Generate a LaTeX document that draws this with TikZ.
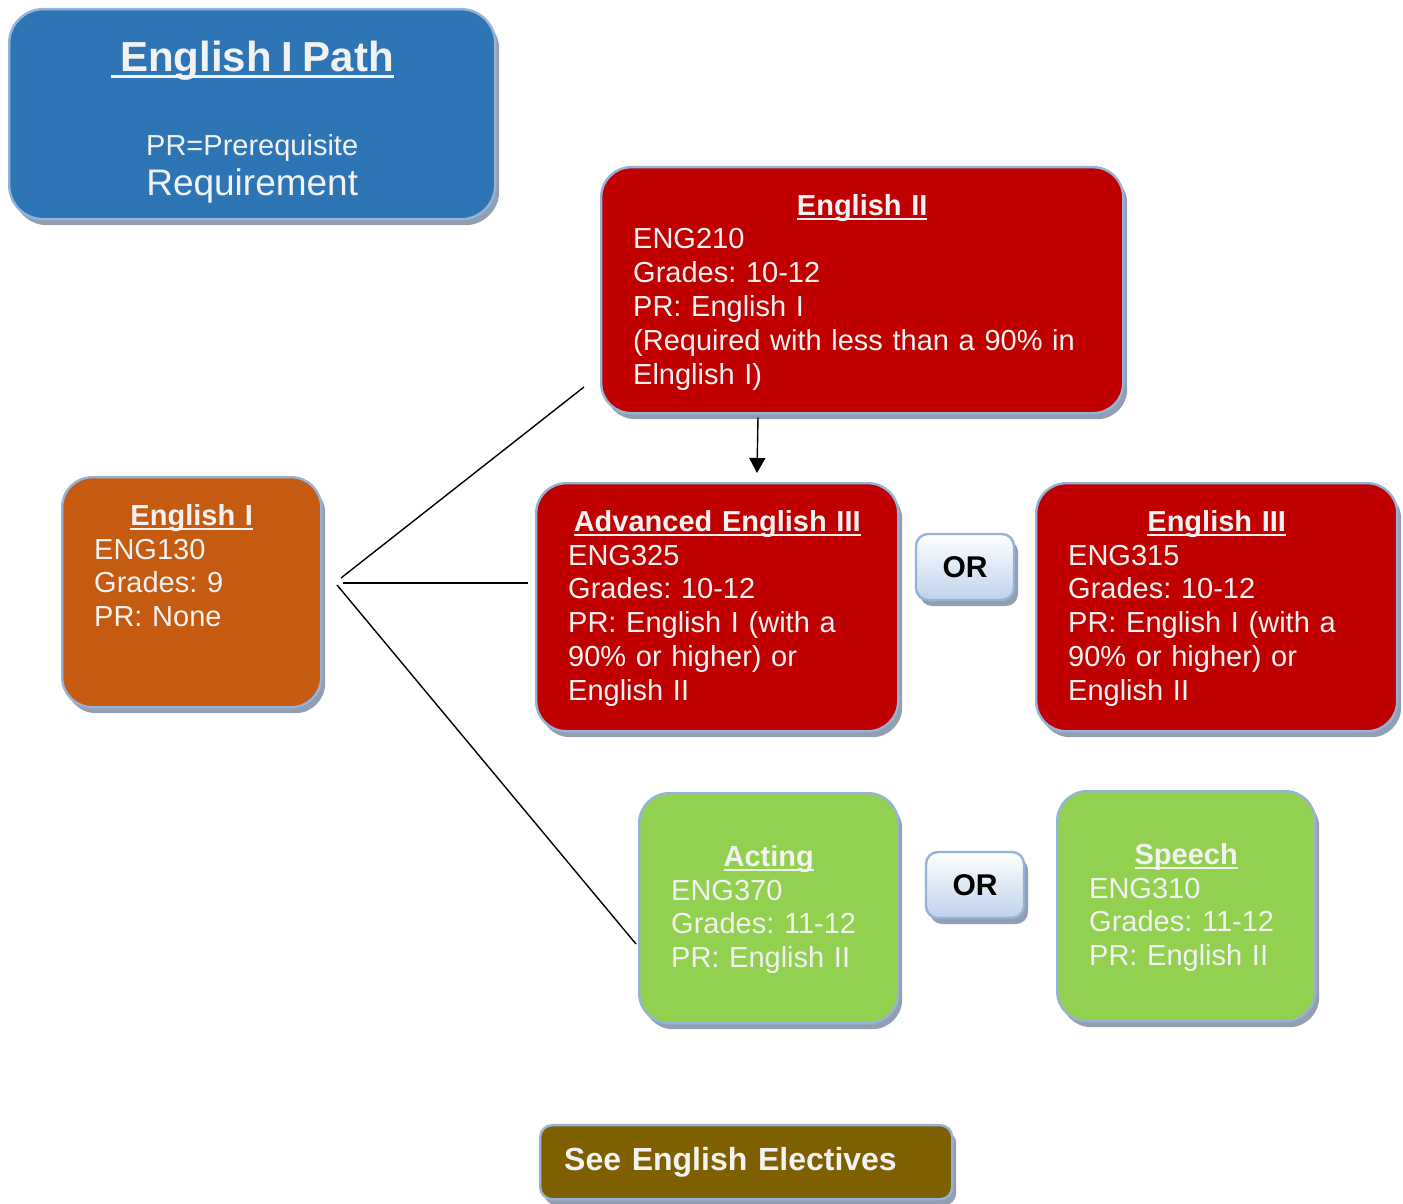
\documentclass[tikz,border=0pt]{standalone}
\usepackage{fontspec}
\setmainfont{Liberation Sans}
\frenchspacing
\usetikzlibrary{arrows.meta,shadows,positioning}
\definecolor{pathblue}{RGB}{46,117,182}
\definecolor{coursered}{RGB}{192,0,0}
\definecolor{courseorange}{RGB}{197,90,17}
\definecolor{coursegreen}{RGB}{146,208,80}
\definecolor{electbrown}{RGB}{127,96,0}
\definecolor{boxline}{RGB}{149,179,215}
\definecolor{boxshadow}{RGB}{146,158,178}
\definecolor{boxtext}{RGB}{242,242,242}
\definecolor{orbottom}{RGB}{190,210,236}
\newcommand\uln[1]{\leavevmode\setbox0\hbox{#1}\rlap{\rule[-0.16em]{\wd0}{0.07em}}\box0}
\tikzset{
  boxbase/.style={draw=boxline,line width=1.2pt,text=boxtext,
    drop shadow={shadow xshift=2pt,shadow yshift=-3pt,fill=boxshadow,opacity=1}},
  course/.style={boxbase,fill=#1,rounded corners=15pt,anchor=north west,align=left,
    inner xsep=16pt,inner ysep=12pt,text height=12pt,font=\fontsize{14.5}{16.9}\selectfont},
  orbox/.style={boxbase,rounded corners=6pt,top color=white,bottom color=orbottom,
    text=black,minimum width=49pt,minimum height=33pt,inner sep=0pt,
    font=\fontsize{15}{18}\selectfont\bfseries},
  electbox/.style={boxbase,fill=electbrown,rounded corners=6pt,anchor=north west,
    align=left,text width=182pt,inner xsep=12pt,inner ysep=0pt,minimum height=37pt,
    font=\fontsize{16}{19}\selectfont\bfseries},
  link/.style={line width=0.7pt,black},
}
\begin{document}
\begin{tikzpicture}[x=0.5pt,y=-0.5pt]
  \useasboundingbox (0,0) rectangle (1403,1204);
  \node[boxbase,fill=pathblue,rounded corners=17pt,anchor=north west,align=center,
    text width=211pt,inner xsep=16pt,inner ysep=12pt,text height=19pt,text depth=62pt,
    font=\fontsize{14.5}{20}\selectfont] (key) at (8,8)
    {{\fontsize{21}{25}\selectfont\bfseries\uln{\ English I Path}}\\[22pt]
     PR=Prerequisite\\ {\fontsize{18.5}{20}\selectfont Requirement}};
  \node[course=coursered,text width=229pt,text depth=87pt] (engtwo) at (600,166)
    {\makebox[\linewidth]{\uln{\bfseries English II}}\\ ENG210\\ Grades: 10-12\\
     PR: English I\\ (Required with less than a 90\% in\\ Elnglish I)};
  \node[course=courseorange,text width=97.5pt,text depth=79pt] (engone) at (61,476)
    {\makebox[\linewidth]{\uln{\bfseries English I}}\\ ENG130\\ Grades: 9\\ PR: None};
  \node[course=coursered,text width=149pt,text depth=88pt] (adveng) at (535,482)
    {\makebox[\linewidth]{\uln{\bfseries Advanced English III}}\\ ENG325\\ Grades: 10-12\\
     PR: English I (with a\\ 90\% or higher) or\\ English II};
  \node[course=coursered,text width=148.5pt,text depth=88pt] (engthree) at (1035,482)
    {\makebox[\linewidth]{\uln{\bfseries English III}}\\ ENG315\\ Grades: 10-12\\
     PR: English I (with a\\ 90\% or higher) or\\ English II};
  \node[course=coursegreen,text width=97.5pt,text height=24.5pt,text depth=66.5pt] (acting) at (638,792)
    {\makebox[\linewidth]{\uln{\bfseries Acting}}\\ ENG370\\ Grades: 11-12\\ PR: English II};
  \node[course=coursegreen,text width=97pt,text height=24.5pt,text depth=66.5pt] (speech) at (1056,790)
    {\makebox[\linewidth]{\uln{\bfseries Speech}}\\ ENG310\\ Grades: 11-12\\ PR: English II};
  \node[orbox] (orA) at (965,567) {OR};
  \node[orbox] (orB) at (975,885) {OR};
  \node[electbox] (electives) at (539,1124) {See English Electives};
  \coordinate (forkA) at (341,578);
  \coordinate (forkB) at (343,583);
  \coordinate (forkC) at (337,585);
  \coordinate (endA) at (584,387);
  \coordinate (endB) at (528,583);
  \coordinate (endC) at (636,944);
  \draw[link] (forkA) -- (endA);
  \draw[link] (forkB) -- (endB);
  \draw[link] (forkC) -- (endC);
  \draw[link,-{Triangle[length=7.5pt,width=8pt]}] ([shift={(158,3)}]engtwo.south west)
    -- ([shift={(222,-9)}]adveng.north west);
\end{tikzpicture}
\end{document}
